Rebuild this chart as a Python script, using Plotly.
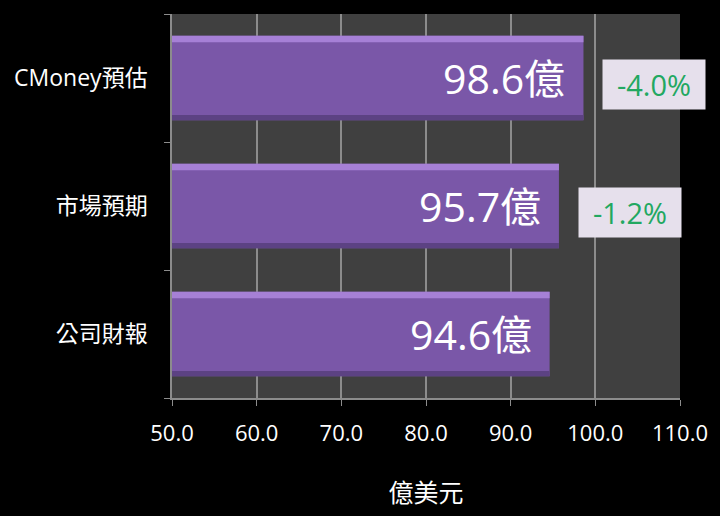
import plotly.graph_objects as go

# data (bottom to top, as plotly draws categories upward)
categories = ["公司財報", "市場預期", "CMoney預估"]
values = [94.6, 95.7, 98.6]
bar_labels = ["94.6億", "95.7億", "98.6億"]
diff_labels = ["", "-1.2%", "-4.0%"]
x_ticks = [50, 60, 70, 80, 90, 100, 110]

FONT = "Open Sans, Noto Sans CJK TC, sans-serif"
BAR_W = 0.66

fig = go.Figure()

# main bar body
fig.add_trace(go.Bar(
    y=categories, x=values, orientation="h",
    width=BAR_W, offset=-BAR_W / 2,
    marker=dict(color="#7a57a8", line=dict(width=0)),
    hoverinfo="skip",
))
# light bevel on the top edge
fig.add_trace(go.Bar(
    y=categories, x=values, orientation="h",
    width=0.05, offset=BAR_W / 2 - 0.05,
    marker=dict(color="#a680d6", line=dict(width=0)),
    hoverinfo="skip",
))
# darker bottom edge
fig.add_trace(go.Bar(
    y=categories, x=values, orientation="h",
    width=0.04, offset=-BAR_W / 2,
    marker=dict(color="#5c4283", line=dict(width=0)),
    hoverinfo="skip",
))

# value labels inside the bars
for cat, val, lab in zip(categories, values, bar_labels):
    fig.add_annotation(
        x=val, y=cat, text=lab, showarrow=False,
        xanchor="right", xshift=-16,
        font=dict(family=FONT, size=41, color="white"),
    )

# percent difference boxes
for cat, val, lab in zip(categories, values, diff_labels):
    if not lab:
        continue
    fig.add_annotation(
        x=val, y=cat, text=lab, showarrow=False,
        xanchor="left", xshift=19, yshift=-6,
        width=98, height=45, align="center",
        font=dict(family=FONT, size=29, color="#22a861"),
        bgcolor="#e6e0ec", borderpad=2,
    )

fig.update_layout(
    width=720, height=516,
    paper_bgcolor="black", plot_bgcolor="#404040",
    margin=dict(l=172, r=40, t=14, b=118),
    barmode="overlay",
    showlegend=False,
    font=dict(family=FONT, color="white"),
)
fig.update_xaxes(
    range=[50, 110], tickvals=x_ticks,
    ticktext=[f"{v:.1f}" for v in x_ticks],
    showgrid=True, gridcolor="#8c8c8c", gridwidth=1.5,
    zeroline=False,
    showline=True, linecolor="#8c8c8c", linewidth=1.5,
    ticks="outside", ticklen=6, tickcolor="#8c8c8c",
    tickfont=dict(size=22, color="white"),
    ticklabelstandoff=9,
    title=dict(text="億美元", font=dict(size=25, color="white"), standoff=38),
)
fig.update_yaxes(
    categoryorder="array", categoryarray=categories,
    showgrid=False, zeroline=False,
    showline=True, linecolor="#8c8c8c", linewidth=1.5,
    ticks="outside", ticklen=6, tickcolor="#8c8c8c", tickson="boundaries",
    tickfont=dict(size=23, color="white"),
    ticklabelstandoff=18,
)

# drop the browser's default body margin so the chart sits at 0,0
fig.write_html("out.html", config={"displayModeBar": False},
               post_script="document.body.style.margin='0';")
